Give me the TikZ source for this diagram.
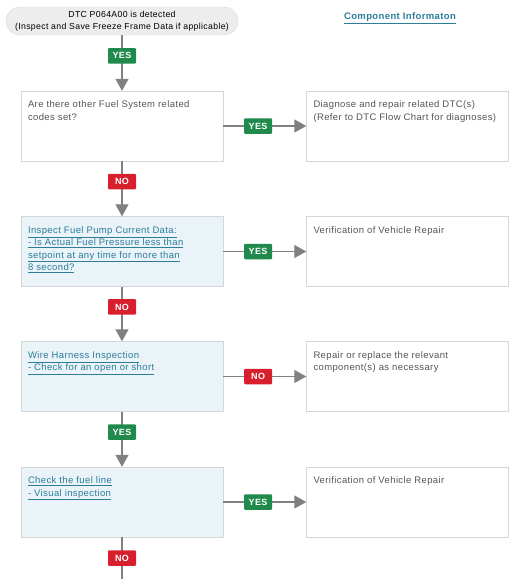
\documentclass[tikz,border=0pt]{standalone}
\usepackage{fontspec}
\setmainfont{Liberation Sans}[LetterSpace=4]
\usetikzlibrary{arrows.meta}
\definecolor{edgegray}{HTML}{808080}
\definecolor{boxline}{HTML}{D4D7DA}
\definecolor{bluefill}{HTML}{EAF3F8}
\definecolor{bodytext}{HTML}{555555}
\definecolor{linkc}{HTML}{2C7C9C}
\definecolor{yesgreen}{HTML}{1F8A4C}
\definecolor{nored}{HTML}{D81F2E}
\definecolor{pillfill}{HTML}{EDEDED}
\newcommand{\boxtext}[1]{\parbox[t][50pt][t]{188pt}{\raggedright #1}}
\newcommand{\lnk}[1]{\underline{#1}}
\tikzset{>={Triangle[width=13pt,length=12pt]}}

\begin{document}
\begin{tikzpicture}[x=1pt,y=-1pt,
  font=\fontsize{9.5}{12.4}\selectfont,
  start/.style={draw=boxline,fill=pillfill,rounded corners=14pt,minimum width=232pt,
    minimum height=28pt,align=center,text=black,inner sep=2pt,font=\fontsize{8.7}{12}\selectfont},
  head/.style={font=\fontsize{9.5}{10}\selectfont\bfseries,text=linkc},
  qbox/.style={draw=boxline,fill=white,minimum width=202pt,minimum height=70pt,
    inner xsep=7pt,inner ysep=10pt,text=bodytext},
  cbox/.style={qbox,fill=bluefill,text=linkc},
  badge/.style={rounded corners=1pt,minimum width=28pt,minimum height=15.5pt,inner sep=0pt,
    text=white,font=\fontsize{9}{8}\selectfont\bfseries},
  yes/.style={badge,fill=yesgreen},
  no/.style={badge,fill=nored},
  flow/.style={draw=edgegray,line width=1.2pt,->}]
\useasboundingbox (0,0) rectangle (520,579);

\node[start] (dtc) at (122,21) {DTC P064A00 is detected\\(Inspect and Save Freeze Frame Data if applicable)};
\node[head] (info) at (400,18) {\underline{Component Informaton}};

% questions
\node[qbox] (q1) at (122,126) {\boxtext{Are there other Fuel System related\\codes set?}};
\node[cbox] (q2) at (122,251.5) {\boxtext{\lnk{Inspect Fuel Pump Current Data:}\\\lnk{- Is Actual Fuel Pressure less than}\\\lnk{setpoint at any time for more than}\\\lnk{8 second?}}};
\node[cbox] (q3) at (122,376.5) {\boxtext{\lnk{Wire Harness Inspection}\\\lnk{- Check for an open or short}}};
\node[cbox] (q4) at (122,502) {\boxtext{\lnk{Check the fuel line}\\\lnk{- Visual inspection}}};
\coordinate (out) at (122,579);

% answers
\node[qbox] (a1) at (407.5,126) {\boxtext{Diagnose and repair related DTC(s)\\(Refer to DTC Flow Chart for diagnoses)}};
\node[qbox] (a2) at (407.5,251.5) {\boxtext{Verification of Vehicle Repair}};
\node[qbox] (a3) at (407.5,376.5) {\boxtext{Repair or replace the relevant\\component(s) as necessary}};
\node[qbox] (a4) at (407.5,502) {\boxtext{Verification of Vehicle Repair}};

\draw[flow] (dtc) -- node[yes,pos=.37] {YES} (q1);
\draw[flow] (q1) -- node[no,pos=.37] {NO} (q2);
\draw[flow] (q2) -- node[no,pos=.37] {NO} (q3);
\draw[flow] (q3) -- node[yes,pos=.37] {YES} (q4);
\draw[flow,-] (q4) -- node[no,pos=.5] {NO} (out);

\draw[flow] (q1) -- node[yes,pos=.42] {YES} (a1);
\draw[flow] (q2) -- node[yes,pos=.42] {YES} (a2);
\draw[flow] (q3) -- node[no,pos=.42] {NO} (a3);
\draw[flow] (q4) -- node[yes,pos=.42] {YES} (a4);
\end{tikzpicture}
\end{document}
